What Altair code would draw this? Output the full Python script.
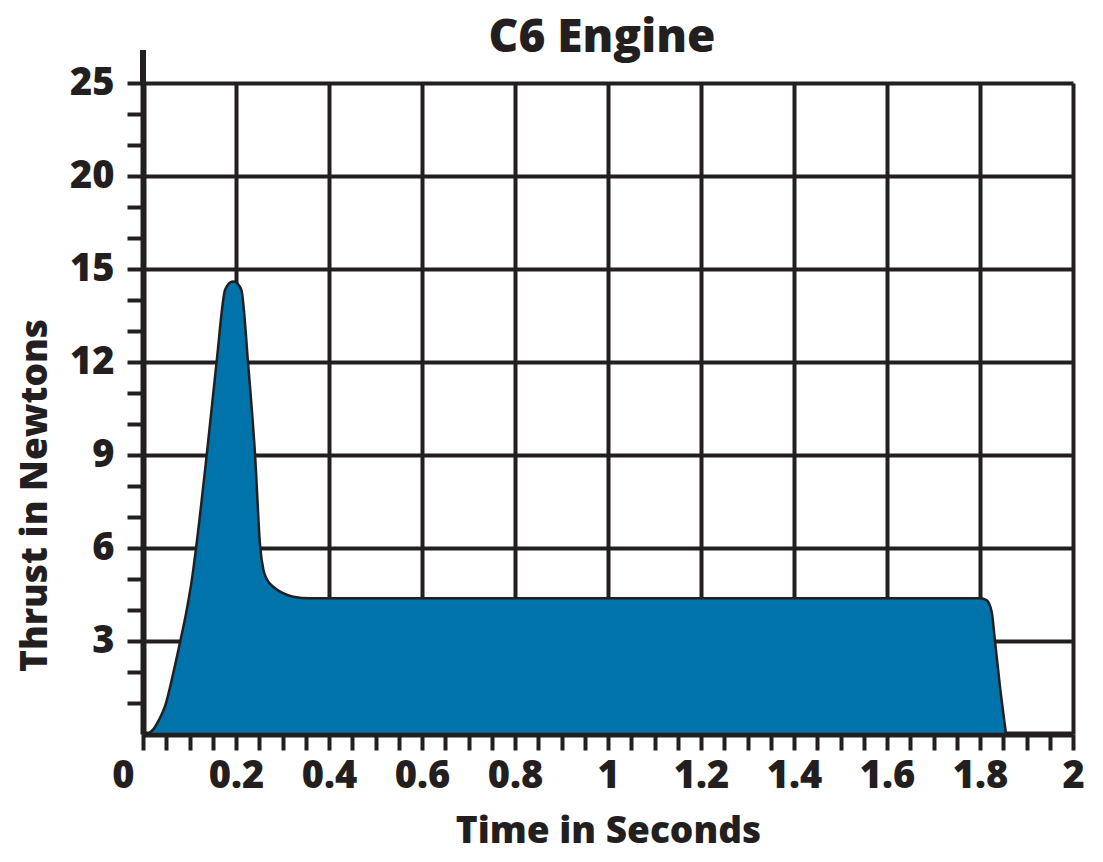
import altair as alt
import pandas as pd

# Thrust curve (time in s, thrust in N)
time_s = [0.010, 0.022, 0.034, 0.047, 0.065, 0.080, 0.094, 0.105, 0.114, 0.137,
          0.158, 0.176, 0.182, 0.188, 0.194, 0.200, 0.206, 0.212, 0.226, 0.241,
          0.252, 0.259, 0.268, 0.280, 0.300, 0.323, 0.360, 1.000, 1.800, 1.814,
          1.825, 1.832, 1.843, 1.856]
thrust_n = [0.00, 0.15, 0.45, 0.88, 1.96, 2.98, 4.00, 4.97, 5.99, 9.00,
            11.96, 14.30, 14.48, 14.57, 14.60, 14.57, 14.48, 14.30, 11.96, 9.00,
            6.04, 5.29, 4.95, 4.75, 4.55, 4.43, 4.38, 4.38, 4.38, 4.32,
            3.95, 3.03, 1.53, 0.00]

x_ticks = [0, 0.05, 0.1, 0.15, 0.2, 0.25, 0.3, 0.35, 0.4, 0.45, 0.5, 0.55, 0.6,
           0.65, 0.7, 0.75, 0.8, 0.85, 0.9, 0.95, 1.0, 1.05, 1.1, 1.15, 1.2, 1.25,
           1.3, 1.35, 1.4, 1.45, 1.5, 1.55, 1.6, 1.65, 1.7, 1.75, 1.8, 1.85, 1.9,
           1.95, 2.0]
y_major = [3, 6, 9, 12, 15, 20, 25]
y_ticks = [1, 2, 3, 4, 5, 6, 7, 8, 9, 10, 11, 12, 13, 14, 15,
           16.667, 18.333, 20, 21.667, 23.333, 25]

df = pd.DataFrame({"t": time_s, "thrust": thrust_n})

INK = "#231f20"
FONT = "Open Sans"
W, H = 930, 651

x_major_test = "abs(datum.value*5 - round(datum.value*5)) < 0.001"
y_major_test = "indexof([3,6,9,12,15,20,25], datum.value) >= 0"

x_axis = alt.Axis(
    values=x_ticks,
    labelExpr=f"({x_major_test}) ? format(datum.value, '~g') : ''",
    labelOverlap=False, labelFlush=False, labelBound=False,
    labelFont=FONT, labelFontSize=38, labelFontWeight=800, labelColor=INK,
    labelPadding=7,
    labelAlign={"condition": {"test": "datum.value == 0", "value": "right"}, "value": "center"},
    labelOffset={"condition": {"test": "datum.value == 0", "value": -9}, "value": 0},
    ticks=True, tickSize=16, tickWidth=4, tickColor=INK,
    domain=True, domainColor=INK, domainWidth=6,
    grid=True, gridColor=INK, gridWidth=4,
    gridOpacity={"condition": {"test": x_major_test, "value": 1}, "value": 0},
    title="Time in Seconds", titleFont=FONT, titleFontSize=37, titleFontWeight=800,
    titleColor=INK, titleY=108, titleBaseline="alphabetic",
)

y_axis = alt.Axis(
    values=y_ticks,
    labelExpr=f"({y_major_test}) ? format(datum.value, '~g') : ''",
    labelOverlap=False, labelFlush=False, labelBound=False,
    labelFont=FONT, labelFontSize=38, labelFontWeight=800, labelColor=INK,
    labelPadding=13, labelBaseline="middle",
    ticks=True, tickSize=16, tickWidth=4, tickColor=INK,
    domain=True, domainColor=INK, domainWidth=6,
    grid=True, gridColor=INK, gridWidth=4,
    gridOpacity={"condition": {"test": y_major_test, "value": 1}, "value": 0},
    title="Thrust in Newtons", titleFont=FONT, titleFontSize=37, titleFontWeight=800,
    titleColor=INK, titleAngle=-90, titleAlign="center", titleBaseline="alphabetic",
    titleX=-97, titleY=412,
)

x_scale = alt.Scale(domain=[0, 2], nice=False, zero=False)
y_scale = alt.Scale(domain=[0, 15, 25], range=[H, H - 465, 0], nice=False, zero=False)

area = alt.Chart(df).mark_area(
    color="#0073aa", stroke=INK, strokeWidth=2.5, interpolate="monotone", opacity=1
).encode(
    x=alt.X("t:Q", scale=x_scale, axis=x_axis),
    y=alt.Y("thrust:Q", scale=y_scale, axis=y_axis),
)

stub = alt.Chart(df).mark_rule(color=INK, strokeWidth=6).encode(
    x=alt.value(0), y=alt.value(-33), y2=alt.value(0)
)

chart = alt.layer(area, stub).properties(
    width=W, height=H,
    title=alt.TitleParams(
        "C6 Engine", font=FONT, fontSize=46, fontWeight=800, color=INK,
        anchor="middle", frame="group", baseline="alphabetic", offset=0, dx=-6, dy=51,
    ),
    padding={"left": 135, "top": 75, "right": 16, "bottom": 120},
    autosize="none",
).configure_view(stroke=None).configure(background="white")

chart.save("out.html", embed_options={"renderer": "svg", "actions": False})
